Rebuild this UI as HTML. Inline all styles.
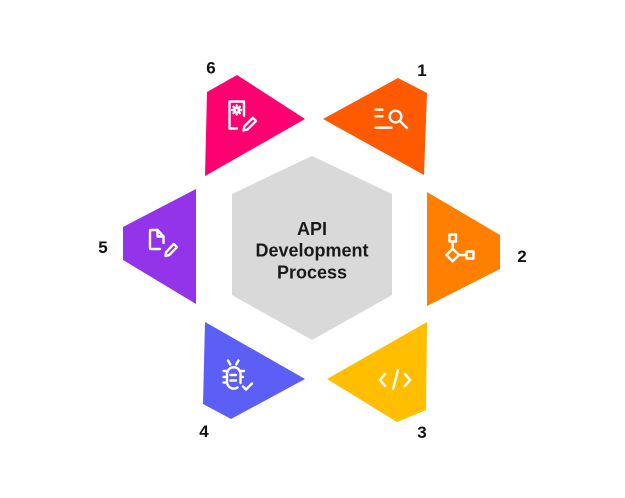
<!DOCTYPE html>
<html>
<head>
<meta charset="utf-8">
<style>
html,body{margin:0;padding:0;background:#fff;}
body{width:625px;height:498px;overflow:hidden;}
svg{display:block;}
text{font-family:"Liberation Sans",Arial,sans-serif;}
</style>
</head>
<body>
<svg width="625" height="498" viewBox="0 0 625 498" xmlns="http://www.w3.org/2000/svg">
  <rect width="625" height="498" fill="#ffffff"/>
  <!-- center hexagon -->
  <polygon points="312,156 392,194 392,295 312,340 232,295 232,194" fill="#d9d9d9"/>
  <text x="312" y="235" font-size="18" font-weight="bold" fill="#1a1a1a" text-anchor="middle">API</text>
  <text x="312" y="256.7" font-size="18" font-weight="bold" fill="#1a1a1a" text-anchor="middle">Development</text>
  <text x="312" y="278.3" font-size="18" font-weight="bold" fill="#1a1a1a" text-anchor="middle">Process</text>

  <!-- segments -->
  <polygon points="323,119 398,78 427,93 424,175" fill="#ff5a00"/>
  <polygon points="427,192 500,235 500,269 427,306" fill="#ff7f00"/>
  <polygon points="427,322 426,410 397,422 327,379" fill="#ffbf00"/>
  <polygon points="205,322 305,379 231,419 203,404" fill="#5b5ff6"/>
  <polygon points="196,189 196,304 123,260 123,227" fill="#9333ea"/>
  <polygon points="207,92 237,75 305,119 205,176" fill="#ff0070"/>

  <!-- numbers -->
  <g font-size="17" font-weight="bold" fill="#111" text-anchor="middle">
    <text x="422" y="76">1</text>
    <text x="522" y="262">2</text>
    <text x="422" y="438">3</text>
    <text x="204" y="437">4</text>
    <text x="103" y="253">5</text>
    <text x="211" y="73.5">6</text>
  </g>

  <g fill="none" stroke="#ffffff" stroke-width="2.4" stroke-linecap="round" stroke-linejoin="round">
    <!-- icon 1: list search -->
    <path d="M375.5,109.7 H382.5 M375.5,116.3 H382.5 M375.5,127.7 H391.5"/>
    <circle cx="395.5" cy="116.5" r="5.8"/>
    <path d="M399.8,120.8 L407,128"/>

    <!-- icon 2: flow -->
    <rect x="449.5" y="234.5" width="6.5" height="7"/>
    <polygon points="452.7,248.7 459,255 452.7,261.3 446.4,255"/>
    <rect x="466.5" y="251.5" width="7" height="7"/>
    <path d="M452.7,241.5 V248.7 M459,255 H466.5"/>

    <!-- icon 3: code -->
    <path d="M385,374 L380,380 L385,386"/>
    <path d="M393,389 L398,370"/>
    <path d="M405,374 L410,380 L405,386"/>

    <!-- icon 4: bug check -->
    <path d="M240.5,383 V374 a6.75,6.75 0 0 0 -13.5,0 V382 a6.75,6.75 0 0 0 10.5,5.5"/>
    <path d="M230.5,375 H236 M230.5,380.5 H236"/>
    <path d="M223.5,371 H227 M223.5,377 H227 M223.5,382.5 H227 M240.5,371 H244 M240.5,377 H243"/>
    <path d="M228,360.5 L230.3,364.5 M238.5,360.5 L236.2,364.5"/>
    <path d="M243,386.5 L246,389.5 L252,383.5"/>

    <!-- icon 5: doc edit -->
    <path d="M163.5,243 V236.5 L157.5,230 H151 Q150,230 150,231 V248 Q150,249 151,249 H160"/>
    <path d="M157.5,230 V236.5 H163.5"/>
    <path d="M173.8,244 L177,247.2 L169,255.2 L165.5,256 L166.2,252 Z"/>

    <!-- icon 6: doc settings edit -->
    <path d="M244,116 V101.5 H229.5 V128.5 H237"/>
    <circle cx="236.7" cy="110" r="2.2"/>
    <path d="M236.7,105.5 V106.5 M236.7,113.5 V114.5 M232.2,110 H233.2 M240.2,110 H241.2 M233.5,106.8 L234.2,107.5 M239.2,112.5 L239.9,113.2 M233.5,113.2 L234.2,112.5 M239.2,107.5 L239.9,106.8"/>
    <path d="M252.8,117.8 L256,121 L247.5,129.5 L243.5,130.5 L244.3,126.3 Z"/>
  </g>
</svg>
</body>
</html>
